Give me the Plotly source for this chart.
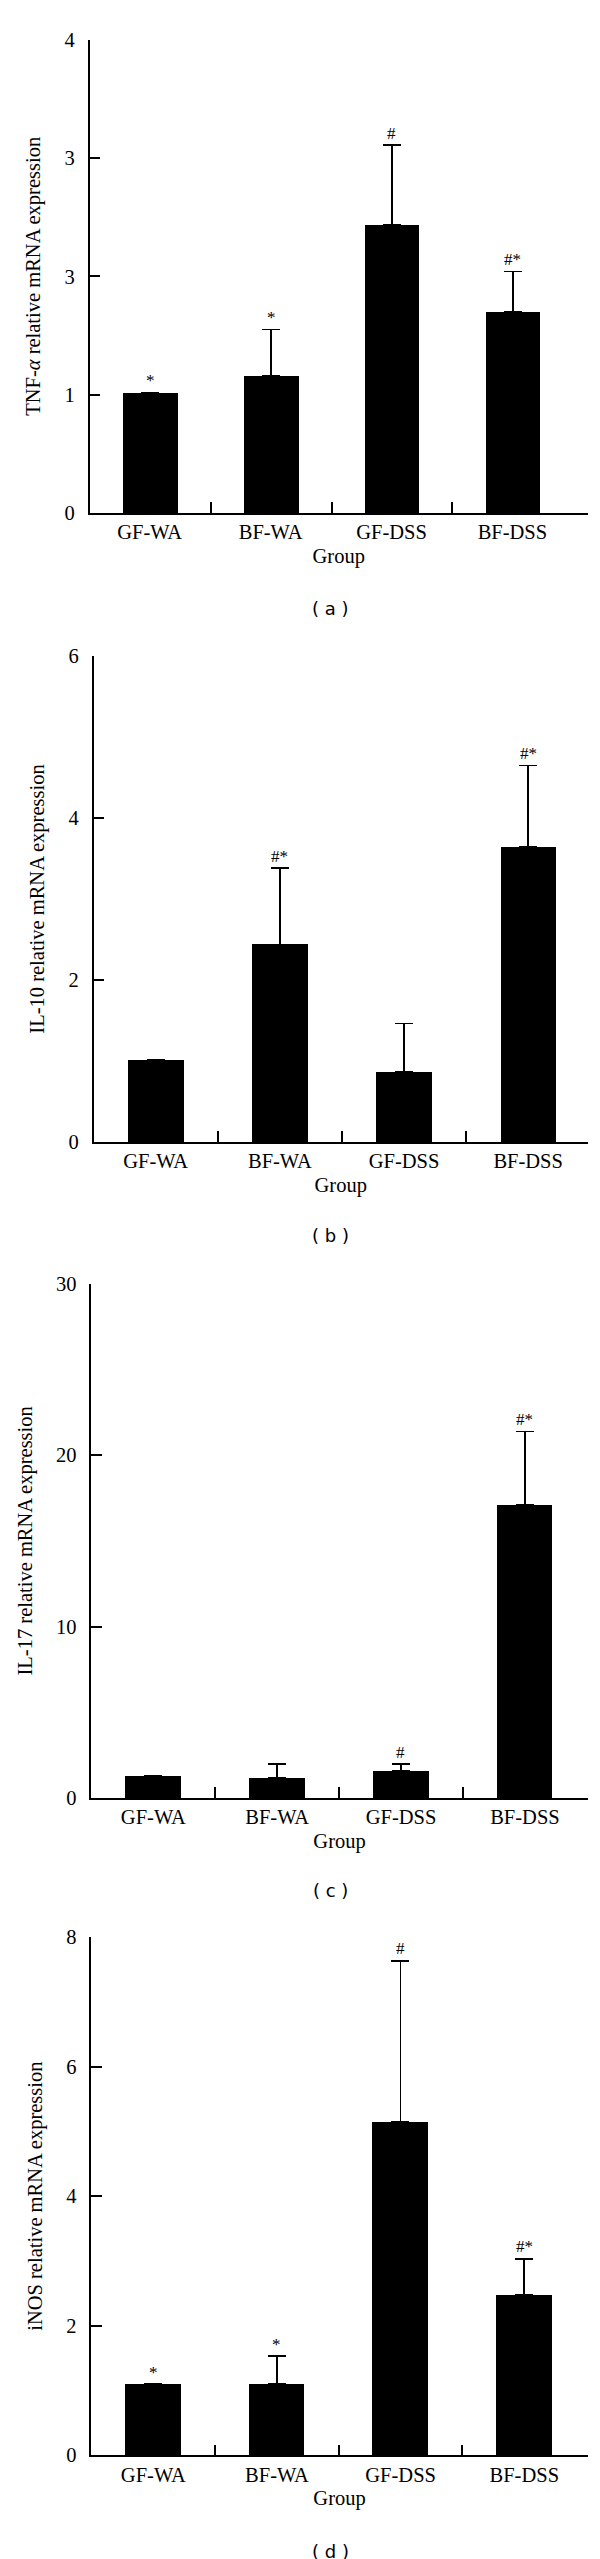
import plotly.graph_objects as go

W, H = 600, 2559

categories = ["GF-WA", "BF-WA", "GF-DSS", "BF-DSS"]

tnf_values = [1.02, 1.16, 2.44, 1.70]
tnf_errors = [None, 0.39, 0.67, 0.34]
tnf_marks = ["*", "*", "#", "#*"]
tnf_tickvals = [0, 1, 2, 3, 4]
tnf_ticktext = ["0", "1", "3", "3", "4"]

il10_values = [1.01, 2.44, 0.87, 3.64]
il10_errors = [None, 0.94, 0.59, 1.01]
il10_marks = ["", "#*", "", "#*"]
il10_tickvals = [0, 2, 4, 6]

il17_values = [1.28, 1.19, 1.61, 17.1]
il17_errors = [None, 0.78, 0.36, 4.28]
il17_marks = ["", "", "#", "#*"]
il17_tickvals = [0, 10, 20, 30]

inos_values = [1.10, 1.10, 5.15, 2.48]
inos_errors = [None, 0.43, 2.48, 0.55]
inos_marks = ["*", "*", "#", "#*"]
inos_tickvals = [0, 2, 4, 6, 8]

panels = [
    dict(values=tnf_values, errors=tnf_errors, marks=tnf_marks,
         tickvals=tnf_tickvals, ticktext=tnf_ticktext, ymax=4,
         ytitle="TNF-<i>α</i> relative mRNA expression", label="( a )",
         px=(81.7, 579.8, 31.7, 505.0), xend=3.62, label_y=600),
    dict(values=il10_values, errors=il10_errors, marks=il10_marks,
         tickvals=il10_tickvals, ticktext=[str(v) for v in il10_tickvals], ymax=6,
         ytitle="IL-10 relative mRNA expression", label="( b )",
         px=(85.7, 579.8, 648.0, 1134.0), xend=3.48, label_y=1228),
    dict(values=il17_values, errors=il17_errors, marks=il17_marks,
         tickvals=il17_tickvals, ticktext=[str(v) for v in il17_tickvals], ymax=30,
         ytitle="IL-17 relative mRNA expression", label="( c )",
         px=(83.3, 579.8, 1275.7, 1790.0), xend=3.508, label_y=1882),
    dict(values=inos_values, errors=inos_errors, marks=inos_marks,
         tickvals=inos_tickvals, ticktext=[str(v) for v in inos_tickvals], ymax=8,
         ytitle="iNOS relative mRNA expression", label="( d )",
         px=(83.3, 579.8, 1929.0, 2447.3), xend=3.515, label_y=2543),
]

SERIF = "Liberation Serif, Times New Roman, serif"
FS = 20.5
fig = go.Figure()
annotations = []
xpos = list(range(len(categories)))

for i, p in enumerate(panels):
    n = "" if i == 0 else str(i + 1)
    xa, ya = "x" + n, "y" + n
    x0, x1, yt, yb = p["px"]
    fig.add_trace(go.Bar(
        x=xpos, y=p["values"], xaxis=xa, yaxis=ya, width=0.45,
        marker=dict(color="black", line=dict(width=0)),
        error_y=dict(type="data", array=p["errors"], symmetric=False,
                     arrayminus=[0] * 4, color="black", thickness=1.5, width=9),
        showlegend=False, hoverinfo="x+y",
    ))
    xr = [-0.5, p["xend"]]
    unit_px = (x1 - x0) / (xr[1] - xr[0])
    # ticks sit on group boundaries; each label is shifted half a group to its bar
    tickvals = [v - 0.5 for v in xpos] + [xr[1]]
    ticktext = categories + [""]
    fig.layout["xaxis" + n] = dict(
        domain=[x0 / W, x1 / W], range=xr, anchor=ya,
        tickmode="array", tickvals=tickvals, ticktext=ticktext,
        ticklabelshift=round(unit_px / 2),
        ticks="inside", ticklen=11, tickwidth=1.5, tickcolor="black",
        showline=True, linecolor="black", linewidth=1.5, showgrid=False, zeroline=False,
        tickfont=dict(family=SERIF, size=FS, color="black"),
        title=dict(text="Group", font=dict(family=SERIF, size=FS, color="black"), standoff=6),
        automargin=False, fixedrange=True,
    )
    fig.layout["yaxis" + n] = dict(
        domain=[1 - yb / H, 1 - yt / H], range=[0, p["ymax"]], anchor=xa,
        tickmode="array", tickvals=p["tickvals"], ticktext=p["ticktext"],
        ticks="inside", ticklen=11, tickwidth=1.5, tickcolor="black",
        showline=True, linecolor="black", linewidth=1.5, showgrid=False, zeroline=False,
        tickfont=dict(family=SERIF, size=FS, color="black"), ticklabelstandoff=9,
        title=dict(text=p["ytitle"], font=dict(family=SERIF, size=FS, color="black"), standoff=18),
        automargin=False, fixedrange=True,
    )
    for j, m in enumerate(p["marks"]):
        if not m:
            continue
        top = p["values"][j] + (p["errors"][j] or 0)
        annotations.append(dict(
            x=j, y=top, xref=xa, yref=ya, text=m, showarrow=False,
            yanchor="middle", yshift=12, font=dict(family=SERIF, size=17, color="black"),
        ))
    annotations.append(dict(
        x=322.7 / W, y=1 - p["label_y"] / H, xref="paper", yref="paper", text=p["label"],
        showarrow=False, xanchor="center", yanchor="middle",
        font=dict(family="DejaVu Sans, Verdana, sans-serif", size=18, color="black"),
    ))

fig.update_layout(
    width=W, height=H, margin=dict(l=0, r=0, t=0, b=0),
    paper_bgcolor="white", plot_bgcolor="white",
    font=dict(family=SERIF, color="black"),
    annotations=annotations, bargap=0,
)

fig.write_html("out.html")
